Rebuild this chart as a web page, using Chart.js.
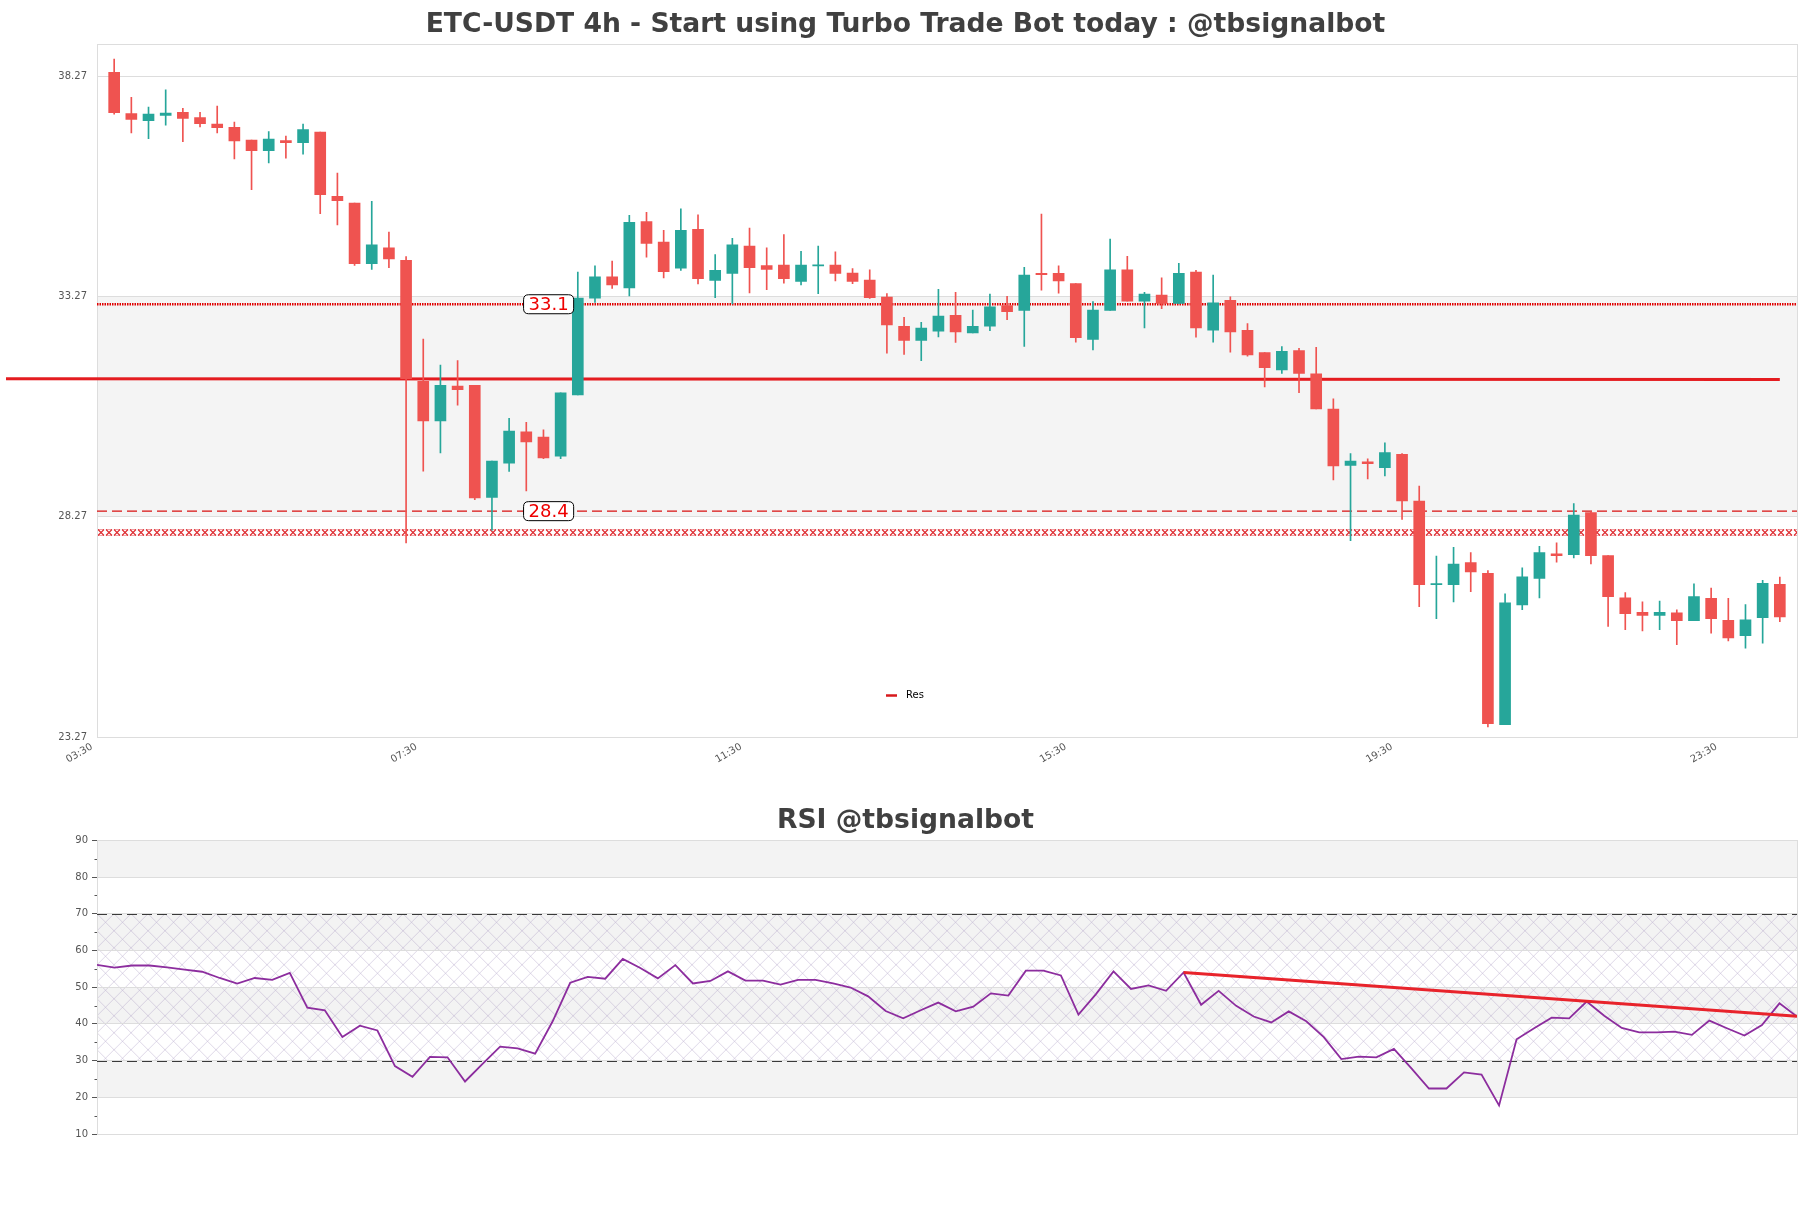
<!DOCTYPE html>
<html>
<head>
<meta charset="utf-8">
<script src="https://cdn.jsdelivr.net/npm/chart.js@4.4.1/dist/chart.umd.min.js"></script>
<style>
  html, body { margin: 0; padding: 0; background: #fff; }
  #wrap { position: relative; width: 1811px; height: 1208px; }
  #price { position: absolute; left: 0; top: 0; }
  #rsi { position: absolute; left: 0; top: 790px; }
</style>
</head>
<body>
<div id="wrap">
  <canvas id="price" width="1811" height="790"></canvas>
  <canvas id="rsi" width="1811" height="418"></canvas>
</div>
<script>
// ---- data ----
const open  = [38.37,37.43,37.27,37.39,37.46,37.34,37.19,37.12,36.83,36.59,36.82,36.77,37.01,35.55,35.40,34.02,34.38,34.10,31.35,30.45,
               31.24,31.26,28.71,29.49,30.20,30.08,29.65,31.04,33.24,33.72,33.47,34.98,34.51,33.92,34.80,33.64,33.80,34.42,33.98,33.99,
               33.62,33.97,33.99,33.81,33.65,33.26,32.60,32.28,32.49,32.85,32.45,32.60,33.07,32.96,33.80,33.80,33.57,32.30,32.96,33.88,
               33.17,33.31,33.12,33.83,32.51,33.19,32.51,32.00,31.61,32.05,31.52,30.72,29.44,29.52,29.39,29.69,28.63,26.73,26.73,27.23,
               26.99,23.55,26.27,26.87,27.43,27.41,28.37,27.39,26.43,26.10,26.03,26.09,25.91,26.42,25.92,25.57,25.98,26.74];
const high  = [38.67,37.80,37.58,37.97,37.55,37.46,37.60,37.24,36.83,37.02,36.92,37.19,37.01,36.08,35.40,35.44,34.74,34.18,32.31,31.72,
               31.82,31.26,29.54,30.51,30.42,30.25,31.09,33.83,33.97,34.08,35.12,35.19,34.78,35.27,35.13,34.23,34.60,34.83,34.38,34.68,
               34.30,34.42,34.29,33.91,33.88,33.34,32.80,32.69,33.44,33.37,32.97,33.33,33.28,33.94,35.15,33.97,33.57,33.16,34.58,34.19,
               33.37,33.70,34.03,33.87,33.76,33.27,32.66,32.00,32.14,32.10,32.12,30.95,29.71,29.59,29.95,29.71,28.97,27.38,27.58,27.46,
               27.05,26.52,27.11,27.60,27.68,28.57,28.39,27.39,26.55,26.34,26.36,26.16,26.75,26.65,26.42,26.28,26.83,26.90];
const low   = [37.42,36.99,36.86,37.17,36.79,37.13,36.99,36.40,35.70,36.31,36.42,36.51,35.16,34.90,33.98,33.89,33.93,27.68,29.31,29.72,
               30.81,28.66,27.97,29.30,28.86,29.59,29.59,31.04,33.14,33.46,33.29,34.17,33.70,33.87,33.56,33.25,33.11,33.36,33.43,33.58,
               33.54,33.34,33.63,33.57,33.23,31.99,31.96,31.82,32.36,32.23,32.45,32.50,32.75,32.14,33.42,33.35,32.24,32.06,32.96,33.17,
               32.56,33.00,33.12,32.35,32.24,32.01,31.92,31.22,31.53,31.09,30.72,29.11,27.73,29.13,29.20,28.21,26.23,25.96,26.34,26.57,
               23.50,23.55,26.16,26.43,27.24,27.34,27.20,25.78,25.71,25.68,25.71,25.37,25.91,25.63,25.45,25.29,25.40,25.89];
const close = [37.45,37.30,37.42,37.44,37.32,37.20,37.11,36.81,36.59,36.85,36.77,37.07,35.59,35.45,34.02,34.45,34.13,31.41,30.45,31.26,
               31.16,28.70,29.54,30.22,29.97,29.61,31.09,33.24,33.72,33.54,34.96,34.48,33.84,34.78,33.68,33.87,34.45,33.93,33.89,33.68,
               33.99,33.99,33.80,33.62,33.25,32.63,32.28,32.56,32.83,32.47,32.60,33.04,32.93,33.76,33.77,33.63,32.34,32.97,33.88,33.17,
               33.33,33.12,33.80,32.56,33.13,32.47,31.95,31.66,32.03,31.53,30.72,29.43,29.54,29.48,29.73,28.63,26.73,26.75,27.20,27.02,
               23.57,26.32,26.91,27.46,27.39,28.31,27.39,26.46,26.07,26.03,26.10,25.91,26.46,25.96,25.52,25.93,26.76,26.00];

const rsi = [56.1,55.3,55.9,55.9,55.4,54.8,54.2,52.5,51.0,52.5,
             52.0,53.9,44.4,43.7,36.4,39.5,38.2,28.5,25.6,31.0,
             30.9,24.3,29.1,33.8,33.3,31.9,40.7,51.2,52.8,52.3,
             57.7,55.2,52.4,56.0,51.0,51.7,54.3,51.8,51.8,50.7,
             52.0,52.0,51.0,49.9,47.5,43.5,41.5,43.7,45.8,43.4,
             44.7,48.3,47.7,54.5,54.5,53.2,42.5,48.1,54.3,49.5,
             50.5,49.0,54.0,45.2,49.0,44.9,42.0,40.4,43.4,40.7,
             36.4,30.4,31.1,30.9,33.2,27.9,22.4,22.4,26.8,26.2,
             17.8,35.8,38.8,41.7,41.5,46.1,42.2,38.9,37.7,37.7,
             37.9,37.0,40.9,38.8,36.8,39.7,45.6,42.0];

const xTickPos    = [-1, 17.9, 36.8, 55.7, 74.7, 93.6];
const xTickLabels = ['03:30', '07:30', '11:30', '15:30', '19:30', '23:30'];
const yTicks      = [23.27, 28.27, 33.27, 38.27];

const resX = [-6.3, 97];          // resistance line ends
const resY = [31.41, 31.39];
const levelHigh = 33.1;           // dotted level
const levelLow  = 28.4;           // dashed level
const xBand     = [27.83, 27.99]; // hatched strip
const rsiTrendX = [62, 97];
const rsiTrendY = [54.0, 42.1];

// ---- styling ----
Chart.defaults.font.family = "'DejaVu Sans', 'Liberation Sans', sans-serif";
Chart.defaults.animation = false;
const TXT = '#404040';
const TICK = '#555555';
const GRID = '#dddddd';
const UP = '#26a69a';
const DOWN = '#ef5350';
const TITLE_SIZE = 26.6;

const idx = open.map((_, i) => i);
const candleColor = idx.map(i => close[i] >= open[i] ? UP : DOWN);

function roundBox(ctx, x, y, w, h, r) {
  ctx.beginPath();
  ctx.moveTo(x + r, y);
  ctx.lineTo(x + w - r, y);
  ctx.quadraticCurveTo(x + w, y, x + w, y + r);
  ctx.lineTo(x + w, y + h - r);
  ctx.quadraticCurveTo(x + w, y + h, x + w - r, y + h);
  ctx.lineTo(x + r, y + h);
  ctx.quadraticCurveTo(x, y + h, x, y + h - r);
  ctx.lineTo(x, y + r);
  ctx.quadraticCurveTo(x, y, x + r, y);
  ctx.closePath();
}

// small "x" hatch used for the thin strip
function xPattern(h) {
  const w = 8;
  const p = document.createElement('canvas');
  p.width = w; p.height = h;
  const g = p.getContext('2d');
  g.strokeStyle = 'rgba(220,30,35,0.95)';
  g.lineWidth = 1.1;
  g.beginPath();
  g.moveTo(1, 0.5); g.lineTo(w - 1, h - 0.5);
  g.moveTo(w - 1, 0.5); g.lineTo(1, h - 0.5);
  g.stroke();
  g.strokeStyle = 'rgba(220,30,35,0.6)';
  g.lineWidth = 0.7;
  g.beginPath();
  g.moveTo(1, 0.5); g.lineTo(w - 1, 0.5);
  g.moveTo(1, h - 0.5); g.lineTo(w - 1, h - 0.5);
  g.stroke();
  return p;
}

function hatchPattern() {
  const s = 17;
  const p = document.createElement('canvas');
  p.width = s; p.height = s;
  const g = p.getContext('2d');
  g.strokeStyle = 'rgba(170,155,195,0.5)';
  g.lineWidth = 0.8;
  g.beginPath();
  g.moveTo(0, 0); g.lineTo(s, s);
  g.moveTo(s, 0); g.lineTo(0, s);
  g.stroke();
  return p;
}

const fixedWidth = (w) => (s) => { s.width = w; };
const fixedHeight = (h) => (s) => { s.height = h; };

const rightSpacer = {
  type: 'linear', position: 'right',
  grid: { display: false }, border: { display: false }, ticks: { display: false },
  afterFit: fixedWidth(14),
};

// ---- price chart ----
const priceDecor = {
  id: 'priceDecor',
  beforeDraw(c) {
    const { ctx, chartArea: a, scales: { y } } = c;
    const t = y.getPixelForValue(yTicks[2]);
    const b = y.getPixelForValue(yTicks[1]);
    ctx.save();
    ctx.fillStyle = '#f4f4f4';
    ctx.fillRect(a.left, t, a.width, b - t);
    ctx.restore();
  },
  beforeDatasetsDraw(c) {
    const { ctx, chartArea: a, scales: { y } } = c;
    const t = Math.round(y.getPixelForValue(xBand[1]));
    const b = Math.round(y.getPixelForValue(xBand[0]));
    const h = Math.max(3, b - t);
    ctx.save();
    ctx.translate(a.left, t);
    ctx.fillStyle = ctx.createPattern(xPattern(h), 'repeat-x');
    ctx.fillRect(0, 0, a.width, h);
    ctx.restore();
    ctx.save();
    ctx.strokeStyle = GRID;
    ctx.lineWidth = 1;
    ctx.strokeRect(Math.round(a.left) + 0.5, Math.round(a.top) + 0.5, Math.round(a.width), Math.round(a.height));
    ctx.restore();
  },
  afterDraw(c) {
    const { ctx, chartArea: a, scales: { x, y } } = c;
    ctx.save();
    // level labels
    ctx.font = '18px "DejaVu Sans"';
    ctx.textAlign = 'center';
    ctx.textBaseline = 'middle';
    [levelHigh, levelLow].forEach(v => {
      const txt = String(v);
      const px = x.getPixelForValue(25.3);
      const py = y.getPixelForValue(v);
      const w = ctx.measureText(txt).width + 10;
      const h = 19;
      roundBox(ctx, px - w / 2, py - h / 2, w, h, 5);
      ctx.fillStyle = '#ffffff';
      ctx.fill();
      ctx.strokeStyle = '#000000';
      ctx.lineWidth = 1;
      ctx.stroke();
      ctx.fillStyle = '#ee0000';
      ctx.fillText(txt, px, py + 1);
    });
    // legend
    const res = c.data.datasets[2];
    const ly = a.bottom - 41.5;
    ctx.strokeStyle = '#d7191c';
    ctx.lineWidth = 2.5;
    ctx.beginPath();
    ctx.moveTo(886, ly); ctx.lineTo(897, ly);
    ctx.stroke();
    ctx.fillStyle = '#000000';
    ctx.font = '10px "DejaVu Sans"';
    ctx.textAlign = 'left';
    ctx.fillText(res.label, 906, ly);
    ctx.restore();
  },
};

new Chart(document.getElementById('price'), {
  data: {
    datasets: [
      {
        type: 'bar', label: 'body',
        data: idx.map(i => ({ x: i, y: [open[i], close[i]] })),
        backgroundColor: candleColor, barThickness: 11, minBarLength: 1,
        grouped: false, order: 0,
      },
      {
        type: 'bar', label: 'wick',
        data: idx.map(i => ({ x: i, y: [low[i], high[i]] })),
        backgroundColor: candleColor, barThickness: 1,
        grouped: false, order: 1,
      },
      {
        type: 'line', label: 'Res',
        data: resX.map((v, i) => ({ x: v, y: resY[i] })),
        borderColor: '#e41c20', borderWidth: 3, pointRadius: 0, clip: false, order: 3,
      },
      {
        type: 'line', label: 'high',
        data: [{ x: -1, y: levelHigh }, { x: 98, y: levelHigh }],
        borderColor: '#e00000', borderWidth: 2.5, borderDash: [1.5, 1], pointRadius: 0, order: 4,
      },
      {
        type: 'line', label: 'low',
        data: [{ x: -1, y: levelLow }, { x: 98, y: levelLow }],
        borderColor: '#d81010', borderWidth: 1.4, borderDash: [10, 5], pointRadius: 0, order: 5,
      },
    ],
  },
  options: {
    responsive: false,
    layout: { padding: 0 },
    scales: {
      x: {
        type: 'linear', min: -1, max: 98, offset: false,
        grid: { display: false, offset: false },
        border: { display: false },
        afterBuildTicks: (s) => { s.ticks = xTickPos.map(v => ({ value: v })); },
        ticks: {
          autoSkip: false, maxRotation: 30, minRotation: 30, padding: -4, labelOffset: -5,
          color: TICK, font: { size: 10 },
          callback: (v, i) => xTickLabels[i],
        },
        afterFit: fixedHeight(53),
      },
      y: {
        type: 'linear', min: 23.27, max: 39.02,
        grid: { color: GRID, drawTicks: false },
        border: { display: false },
        afterBuildTicks: (s) => { s.ticks = yTicks.map(v => ({ value: v })); },
        ticks: { padding: 10, color: TICK, font: { size: 10 }, callback: (v) => v.toFixed(2) },
        afterFit: fixedWidth(97),
      },
      yr: rightSpacer,
    },
    plugins: {
      legend: { display: false },
      tooltip: { enabled: false },
      title: {
        display: true,
        text: 'ETC-USDT 4h - Start using Turbo Trade Bot today : @tbsignalbot',
        color: TXT, font: { size: TITLE_SIZE, weight: 'bold' },
        padding: { top: 9.3, bottom: 2.4 },
      },
    },
  },
  plugins: [priceDecor],
});

// ---- RSI chart ----
const rsiDecor = {
  id: 'rsiDecor',
  beforeDraw(c) {
    const { ctx, chartArea: a, scales: { y } } = c;
    ctx.save();
    ctx.fillStyle = '#f3f3f3';
    [[80, 90], [60, 70], [40, 50], [20, 30]].forEach(([lo, hi]) => {
      const t = y.getPixelForValue(hi), b = y.getPixelForValue(lo);
      ctx.fillRect(a.left, t, a.width, b - t);
    });
    const t = y.getPixelForValue(70), b = y.getPixelForValue(30);
    ctx.translate(a.left, t);
    ctx.fillStyle = ctx.createPattern(hatchPattern(), 'repeat');
    ctx.fillRect(0, 0, a.width, b - t);
    ctx.restore();
  },
  beforeDatasetsDraw(c) {
    const { ctx, chartArea: a, scales: { y } } = c;
    ctx.save();
    ctx.strokeStyle = GRID;
    ctx.lineWidth = 1;
    ctx.strokeRect(Math.round(a.left) + 0.5, Math.round(a.top) + 0.5, Math.round(a.width), Math.round(a.height));
    // minor ticks
    ctx.strokeStyle = TICK;
    ctx.beginPath();
    for (let v = 15; v < 90; v += 10) {
      const py = Math.round(y.getPixelForValue(v)) + 0.5;
      ctx.moveTo(a.left - 2.5, py); ctx.lineTo(a.left, py);
    }
    ctx.stroke();
    // overbought / oversold
    ctx.strokeStyle = '#3a3a3a';
    ctx.lineWidth = 1.2;
    ctx.setLineDash([10, 5]);
    [70, 30].forEach(v => {
      const py = Math.round(y.getPixelForValue(v)) + 0.5;
      ctx.beginPath();
      ctx.moveTo(a.left, py); ctx.lineTo(a.right, py);
      ctx.stroke();
    });
    ctx.restore();
  },
};

new Chart(document.getElementById('rsi'), {
  type: 'line',
  data: {
    datasets: [
      {
        label: 'RSI',
        data: rsi.map((v, i) => ({ x: i, y: v })),
        borderColor: '#8c2d9e', borderWidth: 1.8, pointRadius: 0, order: 1,
      },
      {
        label: 'trend',
        data: rsiTrendX.map((v, i) => ({ x: v, y: rsiTrendY[i] })),
        borderColor: '#e8232b', borderWidth: 3, pointRadius: 0, order: 0,
      },
    ],
  },
  options: {
    responsive: false,
    layout: { padding: { bottom: 74 } },
    scales: {
      x: { type: 'linear', min: 0, max: 97, display: false },
      y: {
        type: 'linear', min: 10, max: 90,
        grid: {
          color: (ctx) => (ctx.tick && ctx.tick.value % 10 === 0) ? GRID : 'rgba(0,0,0,0)',
          tickColor: (ctx) => (ctx.tick && ctx.tick.value % 10 === 0) ? TICK : 'rgba(0,0,0,0)',
          tickLength: 5,
        },
        border: { display: false },
        ticks: {
          stepSize: 5, padding: 4, color: TICK, font: { size: 10 },
          callback: (v) => (v % 10 === 0 ? v : ''),
        },
        afterFit: fixedWidth(97),
      },
      yr: rightSpacer,
    },
    plugins: {
      legend: { display: false },
      tooltip: { enabled: false },
      title: {
        display: true, text: 'RSI @tbsignalbot',
        color: TXT, font: { size: TITLE_SIZE, weight: 'bold' },
        padding: { top: 15.5, bottom: 2.9 },
      },
    },
  },
  plugins: [rsiDecor],
});
</script>
</body>
</html>
